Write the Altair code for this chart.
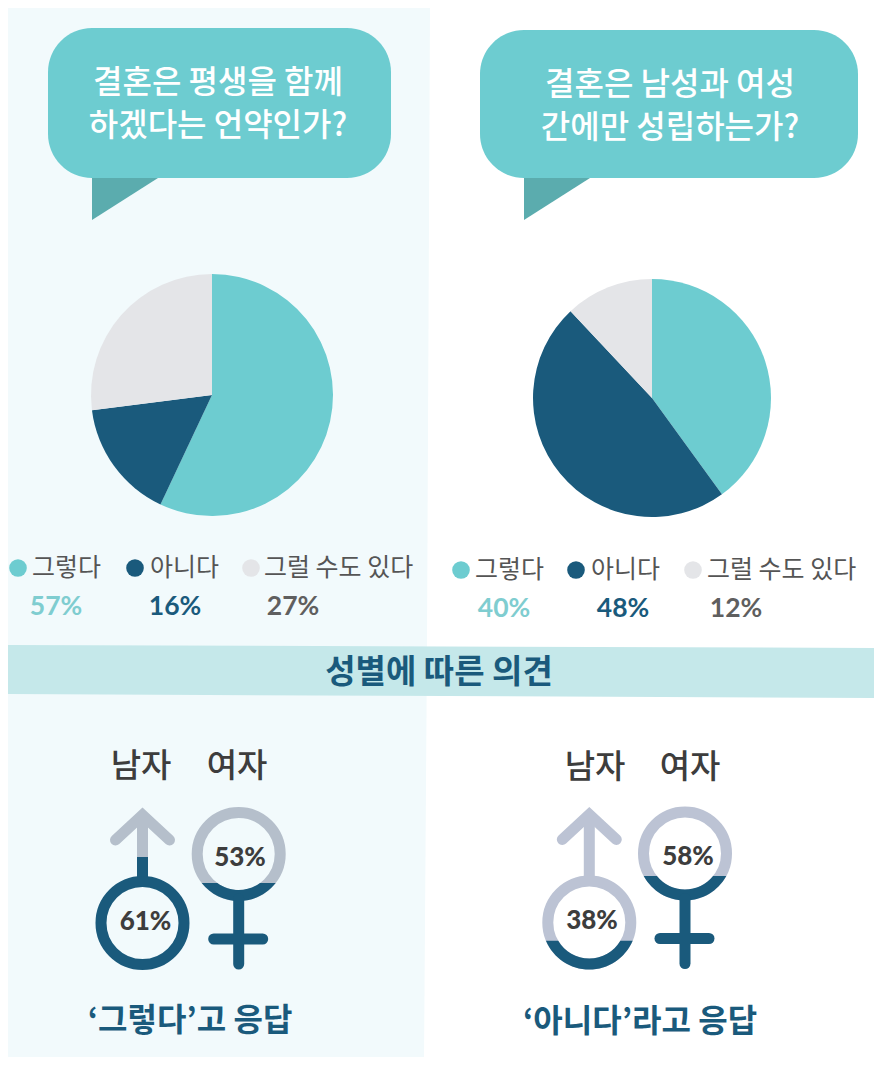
import math
import altair as alt
import pandas as pd

# ---- data ----
categories = ["그렇다", "아니다", "그럴 수도 있다"]
q1_values = [57, 16, 27]
q2_values = [40, 48, 12]
q1_title = ["결혼은 평생을 함께", "하겠다는 언약인가?"]
q2_title = ["결혼은 남성과 여성", "간에만 성립하는가?"]
band_title = "성별에 따른 의견"
gender_labels = ["남자", "여자"]
q1_gender = [61, 53]
q2_gender = [38, 58]
captions = ["‘그렇다’고 응답", "‘아니다’라고 응답"]

# ---- palette / layout ----
TEAL, NAVY, GREY = "#6DCCD0", "#1A5A7C", "#E4E5E8"
PCT_COL = ["#7FCDD0", "#1A5A7C", "#5F5F5F"]
KR = "Noto Sans CJK KR"
LAT = "Lato"
OFF = 8
layers = []
one = pd.DataFrame({"a": [0]})


def shape(d, fill=None, stroke=None, sw=0, join="miter"):
    """Decoration drawn as a custom symbol; size 4 gives unit scale in Vega."""
    kw = dict(shape=d, size=4, opacity=1)
    if fill:
        kw.update(filled=True, fill=fill, strokeWidth=0)
    else:
        kw.update(filled=False, stroke=stroke, strokeWidth=sw, strokeCap="round", strokeJoin=join)
    layers.append(alt.Chart(one).mark_point(**kw).encode(x=alt.value(-OFF), y=alt.value(-OFF)))


def text(s, x, y, size, color, weight=400, font=KR, align="center"):
    kw = dict(fontSize=size, color=color, fontWeight=weight, font=font, align=align, baseline="middle")
    layers.append(
        alt.Chart(pd.DataFrame({"t": [s]}))
        .mark_text(**kw)
        .encode(text="t:N", x=alt.value(x - OFF), y=alt.value(y - OFF))
    )


def bubble(x0, x1, y0, y1, tx):
    layers.append(
        alt.Chart(one).mark_rect(color=TEAL, cornerRadius=44).encode(
            x=alt.value(x0 - OFF), x2=alt.value(x1 - OFF), y=alt.value(y0 - OFF), y2=alt.value(y1 - OFF)
        )
    )
    shape(f"M{tx} {y1}L{tx + 66} {y1}L{tx} {y1 + 42}Z", fill="#5BACAE")


def pie(values, cx, cy, r):
    df = pd.DataFrame({"cat": categories, "val": values, "i": range(len(values))})
    layers.append(
        alt.Chart(df)
        .mark_arc(outerRadius=r)
        .encode(
            theta=alt.Theta("val:Q", stack=True, scale=alt.Scale(domain=[0, 100])),
            order=alt.Order("i:Q"),
            color=alt.Color("cat:N", scale=alt.Scale(domain=categories, range=[TEAL, NAVY, GREY]), legend=None),
            x=alt.value(cx - OFF),
            y=alt.value(cy - OFF),
        )
    )


def legend(values, dots, labels, pcts, y_l, y_p):
    for k, cat in enumerate(categories):
        layers.append(
            alt.Chart(one).mark_circle(size=310, opacity=1, color=[TEAL, NAVY, GREY][k]).encode(
                x=alt.value(dots[k] - OFF), y=alt.value(y_l - OFF)
            )
        )
        text(cat, labels[k], y_l, 25, "#555555", align="left")
        text(f"{values[k]}%", pcts[k], y_p, 26.5, PCT_COL[k], 700, LAT)


def ring_below(cx, cy, R, r, level):
    """Ring segment under the horizontal level."""
    d = level - cy
    xo = math.sqrt(max(R * R - d * d, 0))
    large_o = 1 if d < 0 else 0
    s = f"M{cx - xo:.2f} {level}A{R} {R} 0 {large_o} 0 {cx + xo:.2f} {level}"
    if abs(d) < r:
        xi = math.sqrt(r * r - d * d)
        large_i = 1 if d < 0 else 0
        s += f"L{cx + xi:.2f} {level}A{r} {r} 0 {large_i} 1 {cx - xi:.2f} {level}"
    return s + "Z"


def ring(cx, cy, r, color):
    sw = 11
    rm = r - sw / 2
    shape(f"M{cx - rm} {cy}A{rm} {rm} 0 1 1 {cx + rm} {cy}A{rm} {rm} 0 1 1 {cx - rm} {cy}Z", stroke=color, sw=sw)


def male(cx, cy, level, grey, dark_shaft_top=None):
    top = cy - 47
    shape(f"M{cx} {top}L{cx} {top - 60}", stroke=grey, sw=11, join="miter")
    shape(f"M{cx - 27} {top + -36}L{cx} {top - 61}L{cx + 27} {top - 36}", stroke=grey, sw=11)
    if dark_shaft_top:
        shape(f"M{cx - 5.5} {dark_shaft_top}L{cx + 5.5} {dark_shaft_top}L{cx + 5.5} {top + 3}L{cx - 5.5} {top + 3}Z", fill=NAVY)
        ring(cx, cy, 47, NAVY)
    else:
        ring(cx, cy, 47, grey)
        shape(ring_below(cx, cy, 47, 36, level), fill=NAVY)


def female(cx, cy, level, grey):
    ring(cx, cy, 47, grey)
    shape(ring_below(cx, cy, 47, 36, level), fill=NAVY)
    shape(f"M{cx} {cy + 45}L{cx} {cy + 110}", stroke=NAVY, sw=11)
    shape(f"M{cx - 25} {cy + 85}L{cx + 24} {cy + 85}", stroke=NAVY, sw=11)


# ---- background ----
shape("M0 3L430 3L427 645L424 1062L0 1062Z", fill="#F2FAFC")
shape("M2 645L878 648L878 698L2 694Z", fill="#C5E8EA")

# ---- question bubbles ----
bubble(48, 391, 28, 178, 92)
bubble(480, 858, 30, 178, 524)
text(q1_title[0], 218, 83, 32, "#FFFFFF", 500)
text(q1_title[1], 218, 126, 32, "#FFFFFF", 500)
text(q2_title[0], 670, 85, 32, "#FFFFFF", 500)
text(q2_title[1], 670, 128, 32, "#FFFFFF", 500)

# ---- pies ----
pie(q1_values, 212, 395, 121)
pie(q2_values, 652, 398, 119)

# ---- legends ----
legend(q1_values, [18, 135, 251], [32, 150, 264], [56, 175, 293], 568, 607)
legend(q2_values, [461, 576, 693], [475, 591, 707], [504, 623, 736], 570, 609)

# ---- band ----
text(band_title, 439, 673, 33, NAVY, 700)

# ---- gender icons ----
male(142.5, 923, 876, "#B5BFCB", dark_shaft_top=857)
female(238.7, 854, 883, "#B5BFCB")
male(589.3, 922.5, 940.7, "#BCC3D4")
female(685, 853.5, 876, "#BCC3D4")

text(gender_labels[0], 141, 767, 33, "#3D3D3D", 500)
text(gender_labels[1], 237, 767, 33, "#3D3D3D", 500)
text(gender_labels[0], 595, 768, 33, "#3D3D3D", 500)
text(gender_labels[1], 690, 768, 33, "#3D3D3D", 500)

text(f"{q1_gender[0]}%", 145.5, 922, 26, "#3D3D3D", 900, LAT)
text(f"{q1_gender[1]}%", 240, 858, 26, "#3D3D3D", 900, LAT)
text(f"{q2_gender[0]}%", 592, 921, 26, "#3D3D3D", 900, LAT)
text(f"{q2_gender[1]}%", 688, 857, 26, "#3D3D3D", 900, LAT)

text(captions[0], 190, 1021, 32, NAVY, 700)
text(captions[1], 640, 1022, 32, NAVY, 700)

chart = (
    alt.layer(*layers)
    .properties(width=866, height=1049, padding=0, autosize=alt.AutoSizeParams(type="none"))
    .configure_view(stroke=None)
)
chart.save("out.html", embed_options={"renderer": "svg", "actions": False})
